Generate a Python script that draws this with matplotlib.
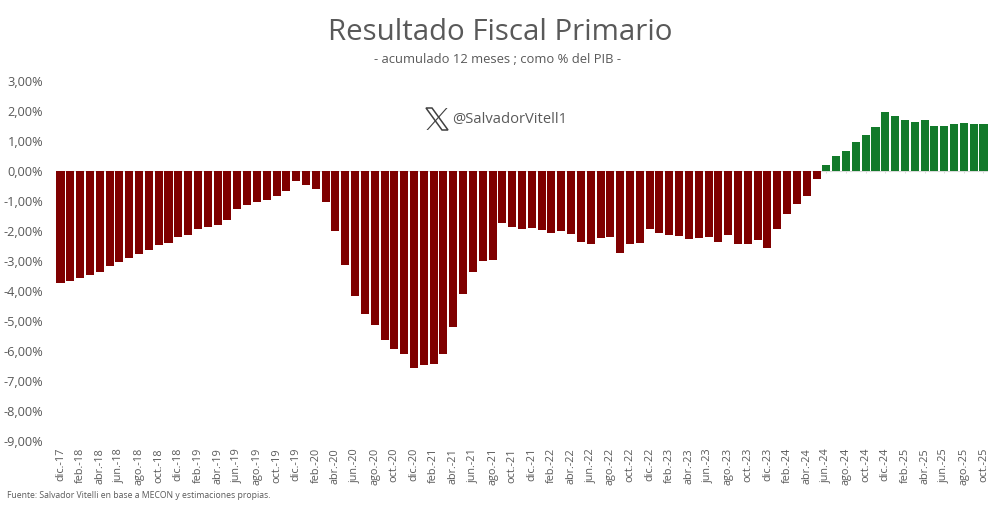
import numpy as np
import matplotlib.pyplot as plt
from matplotlib.patches import Polygon

# resultado primario acumulado 12 meses, % del PIB (dic-17 a oct-25)
valores = [
    -3.74, -3.68, -3.55, -3.48, -3.37, -3.17, -3.02, -2.91, -2.76, -2.63,
    -2.46, -2.39, -2.19, -2.12, -1.92, -1.88, -1.80, -1.62, -1.26, -1.14,
    -1.03, -0.98, -0.84, -0.68, -0.34, -0.47, -0.60, -1.02, -1.99, -3.14,
    -4.17, -4.77, -5.14, -5.62, -5.93, -6.09, -6.57, -6.48, -6.42, -6.11,
    -5.19, -4.09, -3.37, -3.00, -2.96, -1.73, -1.86, -1.94, -1.89, -1.98,
    -2.07, -2.01, -2.09, -2.36, -2.44, -2.23, -2.20, -2.73, -2.43, -2.40,
    -1.92, -2.07, -2.13, -2.18, -2.28, -2.23, -2.20, -2.36, -2.13, -2.42,
    -2.44, -2.30, -2.58, -1.93, -1.44, -1.09, -0.83, -0.28, 0.20, 0.51,
    0.67, 0.97, 1.19, 1.48, 1.96, 1.83, 1.69, 1.64, 1.71, 1.49,
    1.50, 1.57, 1.61, 1.57, 1.57,
]
meses_bim = ['dic.', 'feb.', 'abr.', 'jun.', 'ago.', 'oct.']
anios = [17, 18, 18, 18, 18, 18, 18, 19, 19, 19, 19, 19, 19, 20, 20, 20, 20, 20, 20,
         21, 21, 21, 21, 21, 21, 22, 22, 22, 22, 22, 22, 23, 23, 23, 23, 23, 23,
         24, 24, 24, 24, 24, 24, 25, 25, 25, 25, 25]
etiquetas = [f'{meses_bim[i % 6]}-{a}' for i, a in enumerate(anios)]
yticks = [3, 2, 1, 0, -1, -2, -3, -4, -5, -6, -7, -8, -9]

ROJO = '#7f0000'
VERDE = '#127a2a'
GRIS = '#595959'

plt.rcParams['font.family'] = ['Open Sans', 'DejaVu Sans']

W, H = 1000, 507
fig = plt.figure(figsize=(W / 100, H / 100), dpi=100)
ax = fig.add_axes([55.6 / W, 1 - 441 / H, (988.4 - 55.6) / W, 360 / H])

x = np.arange(len(valores))
v = np.array(valores)
ax.vlines(x[::2], -0.08, 0, color='#d9d9d9', lw=0.7, zorder=1)
ax.axhline(0, color='#d9d9d9', lw=0.8, zorder=1)
ax.bar(x, v, width=0.82, color=[VERDE if i > 0 else ROJO for i in v], zorder=2)

ax.set_xlim(-0.5, len(valores) - 0.5)
ax.set_ylim(-9, 3)
ax.set_yticks(yticks)
ax.set_yticklabels([f'{t:.2f}%'.replace('.', ',') for t in yticks], color=GRIS, fontsize=9.2)
ax.set_xticks(x[::2])
ax.set_xticklabels(etiquetas, rotation=90, color=GRIS, fontsize=7.8)
ax.tick_params(axis='both', length=0)
ax.tick_params(axis='y', pad=9)
ax.tick_params(axis='x', pad=5)
for s in ax.spines.values():
    s.set_visible(False)

fig.text(500 / W, 1 - 33 / H, 'Resultado Fiscal Primario', ha='center', va='center',
         fontsize=21.2, color=GRIS)
fig.text(498 / W, 1 - 60 / H, '- acumulado 12 meses ; como % del PIB -', ha='center', va='center',
         fontsize=9.4, color=GRIS)
fig.text(452 / W, 1 - 119 / H, '@SalvadorVitell1', ha='left', va='center',
         fontsize=10.6, color=GRIS)
fig.text(7 / W, 1 - 496 / H, 'Fuente: Salvador Vitelli en base a MECON y estimaciones propias.',
         ha='left', va='center', fontsize=6.25, color=GRIS)

# logo de X
def px(puntos):
    return [(a / W, 1 - b / H) for a, b in puntos]

fig.add_artist(Polygon(px([(426, 108), (432, 108), (448, 130), (442, 130)]), closed=True,
                       fill=False, edgecolor='#404040', lw=1.1, transform=fig.transFigure))
fig.add_artist(Polygon(px([(446, 108), (447.5, 108), (428, 130), (426.5, 130)]), closed=True,
                       facecolor='#404040', edgecolor='none', transform=fig.transFigure))

fig.savefig('out.png', dpi=100)
